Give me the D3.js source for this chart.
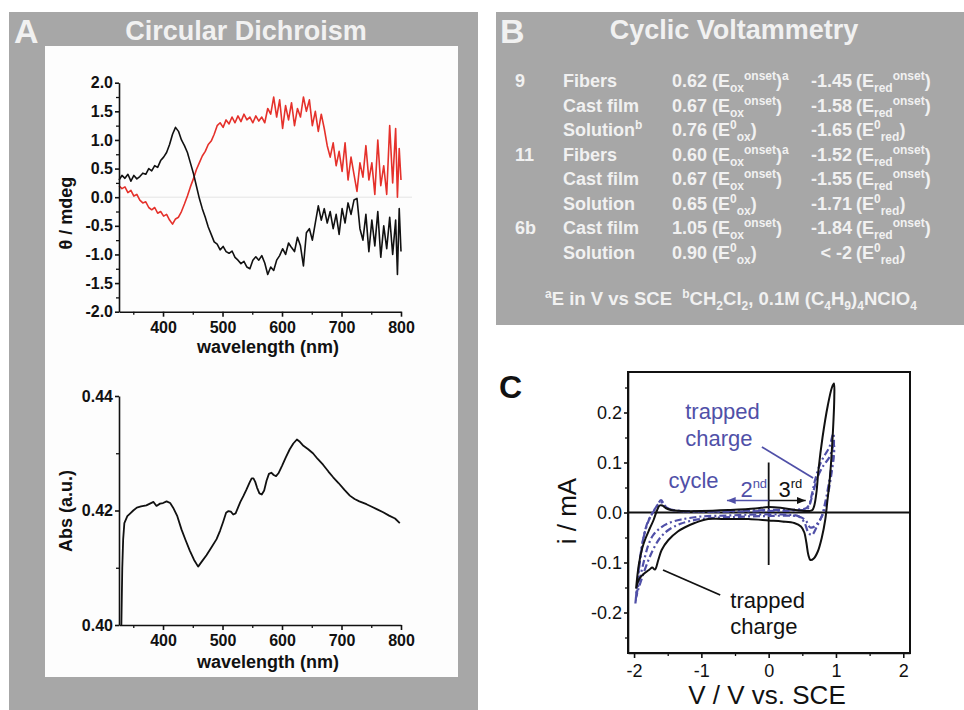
<!DOCTYPE html>
<html><head><meta charset="utf-8">
<script src="https://cdn.jsdelivr.net/npm/d3@7"></script>
<style>
body{margin:0;background:#fff}
svg{display:block;font-family:"Liberation Sans",Arial,sans-serif}
text{white-space:pre}
</style></head><body>
<div id="fig"></div>
<script>
// --- circular dichroism (panel A top)
var cdNm=[326,331,336,341,346,351,356,361,366,371,376,381,386,391,396,401,406,411,416,421,426,431,436,441,446,451,456,461,466,471,476,481,486,491,496,501,506,511,516,521,526,531,536,541,546,551,556,561,566,571,576,581,586,591,596,601,606,611,616,621,626,631,636,641,646,651,656,661,666,671,676,681,686,691,696,701,706,711,716,721,726,731,736,741,746,751,756,761,766,771,776,781,786,791,794,797,800]
var cdBlack=[0.30,0.38,0.33,0.40,0.28,0.38,0.32,0.36,0.42,0.40,0.50,0.46,0.55,0.52,0.64,0.70,0.78,0.92,1.10,1.22,1.15,1.00,0.90,0.78,0.60,0.42,0.20,-0.02,-0.20,-0.35,-0.52,-0.65,-0.78,-0.82,-0.92,-0.86,-0.95,-0.98,-0.94,-1.05,-1.10,-1.16,-1.12,-1.22,-1.25,-1.10,-1.04,-1.10,-1.02,-1.15,-1.35,-1.22,-1.28,-1.10,-1.02,-0.90,-1.00,-0.80,-0.88,-0.95,-0.70,-0.85,-1.20,-0.62,-0.55,-0.75,-0.45,-0.15,-0.40,-0.20,-0.45,-0.25,-0.55,-0.30,-0.65,-0.20,-0.45,-0.10,-0.30,-0.05,-0.02,-0.55,-0.75,-0.30,-0.95,-0.40,-0.85,-0.25,-1.05,-0.50,-0.90,-0.35,-1.00,-0.40,-1.35,-0.20,-0.95]
var cdRed=[0.20,0.15,0.18,0.08,0.12,0.02,0.05,-0.05,-0.10,-0.08,-0.18,-0.22,-0.18,-0.28,-0.25,-0.33,-0.30,-0.40,-0.47,-0.38,-0.35,-0.25,-0.12,0.02,0.18,0.32,0.48,0.60,0.72,0.80,0.92,0.98,1.10,1.25,1.30,1.22,1.35,1.28,1.40,1.30,1.42,1.32,1.45,1.35,1.40,1.30,1.42,1.33,1.40,1.30,1.55,1.45,1.75,1.40,1.70,1.20,1.60,1.35,1.65,1.25,1.55,1.40,1.75,1.50,1.70,1.25,1.50,1.15,1.45,1.20,0.90,0.70,0.95,0.55,0.80,0.45,0.95,0.30,0.70,0.40,0.10,0.60,0.35,0.90,0.30,0.60,0.05,1.00,0.20,0.55,0.05,1.25,0.25,1.20,0.00,0.85,0.30]
var cdYTicks=[-2,-1.5,-1,-0.5,0,0.5,1,1.5,2]
var cdYMinor=[-1.75,-1.25,-0.75,-0.25,0.25,0.75,1.25,1.75]

// --- absorbance (panel A bottom)
var absNm=[330,331.5,333,335,340,345,350,356,363,372,378,384,389,395,400,406,412,417,424,431,438,445,452,459,466,473,481,490,496,501,506,510,514,518,522,526,530,535,540,546,549,552,555,558,562,566,570,574,578,582,586,590,594,600,606,613,619,625,630,636,644,652,660,669,678,686,695,705,714,722,730,742,750,760,770,780,790,798]
var absVal=[0.4000,0.4100,0.4150,0.4178,0.4190,0.4195,0.4200,0.4205,0.4207,0.4209,0.4212,0.4215,0.4208,0.4212,0.4213,0.4216,0.4213,0.4205,0.4190,0.4167,0.4148,0.4130,0.4114,0.4102,0.4112,0.4122,0.4135,0.4150,0.4165,0.4180,0.4196,0.4199,0.4198,0.4193,0.4195,0.4205,0.4215,0.4225,0.4236,0.4250,0.4256,0.4256,0.4250,0.4240,0.4230,0.4228,0.4235,0.4252,0.4264,0.4266,0.4262,0.4260,0.4265,0.4278,0.4292,0.4307,0.4317,0.4324,0.4320,0.4313,0.4307,0.4300,0.4290,0.4280,0.4268,0.4258,0.4248,0.4236,0.4226,0.4220,0.4216,0.4211,0.4207,0.4202,0.4197,0.4191,0.4186,0.4178]
var absYTicks=[0.40,0.42,0.44]
var absYMinor=[0.41,0.43]

var nmTicks=[400,500,600,700,800]
var nmMinor=[350,450,550,650,750]

// --- cyclic voltammetry table (panel B)
var tblCompound=['9','','','11','','','6b','']
var tblMedium=['Fibers','Cast film','Solution','Fibers','Cast film','Solution','Cast film','Solution']
var tblMediumNote=['','','b','','','','','']
var tblOx=['0.62','0.67','0.76','0.60','0.67','0.65','1.05','0.90']
var tblOxNote=['a','','','a','','','','']
var tblRed=['-1.45','-1.58','-1.65','-1.52','-1.55','-1.71','-1.84','< -2']
var tblKind=['onset','onset','0','onset','onset','0','onset','0']

// --- CV curves (panel C), [V, i]
var cvBlack=[[-1.97,-0.152],[-1.93,-0.105],[-1.88,-0.072],[-1.83,-0.052],[-1.77,-0.033],[-1.71,-0.015],[-1.66,0.004],[-1.62,0.014],[-1.58,0.014],[-1.53,0.009],[-1.45,0.005],[-1.3,0.003],[-1.0,0.003],[-0.6,0.005],[-0.2,0.008],[0.0,0.011],[0.2,0.009],[0.45,0.004],[0.6,0.003],[0.65,0.005],[0.68,0.015],[0.71,0.04],[0.74,0.085],[0.8,0.15],[0.88,0.215],[0.94,0.25],[0.97,0.258],[0.975,0.23],[0.95,0.15],[0.91,0.07],[0.87,0.02],[0.84,-0.015],[0.79,-0.05],[0.73,-0.078],[0.67,-0.092],[0.62,-0.095],[0.59,-0.085],[0.56,-0.06],[0.53,-0.04],[0.48,-0.028],[0.38,-0.021],[0.2,-0.018],[0.0,-0.016],[-0.3,-0.013],[-0.7,-0.013],[-0.9,-0.013],[-1.1,-0.021],[-1.25,-0.03],[-1.35,-0.038],[-1.49,-0.055],[-1.59,-0.075],[-1.64,-0.095],[-1.69,-0.114],[-1.73,-0.110],[-1.77,-0.114],[-1.84,-0.121],[-1.92,-0.132],[-1.97,-0.152]]
var cvBlue2=[[-1.98,-0.182],[-1.95,-0.14],[-1.91,-0.09],[-1.86,-0.05],[-1.80,-0.02],[-1.72,0.0],[-1.65,0.015],[-1.60,0.025],[-1.56,0.018],[-1.5,0.008],[-1.3,0.003],[-1.0,0.002],[-0.5,0.003],[0.0,0.005],[0.4,0.006],[0.55,0.008],[0.6,0.015],[0.64,0.035],[0.69,0.065],[0.75,0.092],[0.82,0.112],[0.9,0.13],[0.96,0.158],[0.97,0.14],[0.94,0.10],[0.89,0.055],[0.84,0.02],[0.79,-0.007],[0.72,-0.027],[0.64,-0.045],[0.59,-0.04],[0.53,-0.02],[0.45,-0.008],[0.2,-0.004],[-0.2,-0.004],[-0.6,-0.006],[-1.0,-0.008],[-1.3,-0.014],[-1.5,-0.022],[-1.62,-0.032],[-1.72,-0.046],[-1.79,-0.066],[-1.84,-0.09],[-1.89,-0.118],[-1.95,-0.155],[-1.98,-0.182]]
var cvBlue3=[[-1.97,-0.17],[-1.94,-0.13],[-1.90,-0.085],[-1.85,-0.045],[-1.78,-0.015],[-1.70,0.005],[-1.63,0.018],[-1.58,0.02],[-1.52,0.01],[-1.4,0.004],[-1.0,0.002],[-0.5,0.002],[0.0,0.003],[0.4,0.004],[0.58,0.008],[0.63,0.025],[0.68,0.05],[0.74,0.075],[0.82,0.095],[0.9,0.11],[0.97,0.135],[0.97,0.115],[0.93,0.075],[0.88,0.035],[0.83,0.005],[0.76,-0.015],[0.68,-0.028],[0.62,-0.03],[0.55,-0.016],[0.45,-0.008],[0.0,-0.007],[-0.5,-0.009],[-1.0,-0.013],[-1.3,-0.022],[-1.5,-0.036],[-1.62,-0.052],[-1.72,-0.075],[-1.8,-0.1],[-1.88,-0.13],[-1.94,-0.155],[-1.97,-0.17]]
var cvYTicks=[-0.2,-0.1,0,0.1,0.2]
var cvYMinor=[-0.25,-0.15,-0.05,0.05,0.15,0.25]
var cvXTicks=[-2,-1,0,1,2]
var cvXMinor=[-1.5,-0.5,0.5,1.5]

var gray='#a7a7a7', light='#f1f1f1', blue='#5050a8'
var svg=d3.select('#fig').append('svg').attr('width',964).attr('height',710)

svg.append('rect').attr('x',9).attr('y',12).attr('width',469).attr('height',698).attr('fill',gray)
svg.append('rect').attr('x',45).attr('y',46).attr('width',413).attr('height',631).attr('fill','#fdfdfd')
svg.append('rect').attr('x',496).attr('y',12).attr('width',468).attr('height',313).attr('fill',gray)

function Label(x,y,txt,size,opt){
    opt=opt||{}
    var t=svg.append('text').attr('x',x).attr('y',y).text(txt)
	.attr('font-size',size)
	.attr('font-weight',opt.weight||'normal')
	.attr('fill',opt.fill||'#111')
	.attr('text-anchor',opt.anchor||'start')
    if(opt.rotate) t.attr('transform','rotate(-90,'+x+','+y+')')
    return t
}

// text with sub/superscripts: parts are [text, shift] with 1=sup, -1=sub
function RichText(x,y,parts,size,small,anchor){
    var t=svg.append('text').attr('x',x).attr('y',y)
	.attr('font-size',size).attr('font-weight','bold')
	.attr('fill',light).attr('text-anchor',anchor||'start')
    var cur=0
    parts.forEach(function(p){
	var off=p[1]==1?-7:(p[1]==-1?5:0)
	t.append('tspan').attr('dy',off-cur)
	    .attr('font-size',p[1]?small:null)
	    .text(p[0])
	cur=off
    })
    return t
}

function AddAxis(pos,scale,major,minor,fmt,trans,size,pad,font,weight){
    var mk=pos=='left'?d3.axisLeft:d3.axisBottom
    var gm=svg.append('g').attr('transform',trans)
	.call(mk(scale).tickValues(minor).tickSize(3).tickFormat('').tickSizeOuter(0))
    gm.select('.domain').remove()
    gm.selectAll('line').attr('stroke','#111').attr('stroke-width',1.3)
    var g=svg.append('g').attr('transform',trans)
	.call(mk(scale).tickValues(major).tickSize(size).tickPadding(pad).tickFormat(fmt).tickSizeOuter(0))
    g.selectAll('text')
	.attr('font-size',font).attr('font-weight',weight)
	.attr('font-family','"Liberation Sans",Arial,sans-serif').attr('fill','#111')
    g.selectAll('line,path').attr('stroke','#111').attr('stroke-width',1.6)
    return g
}

// panel titles
Label(14,43,'A',34,{weight:'bold',fill:light})
Label(246,40,'Circular Dichroism',27,{weight:'bold',fill:light,anchor:'middle'})
Label(500,43,'B',34,{weight:'bold',fill:light})
Label(734,39,'Cyclic Voltammetry',27,{weight:'bold',fill:light,anchor:'middle'})
Label(499,398,'C',32,{weight:'bold',fill:'#111'})

// ---- CD plot
var xCd=d3.scaleLinear().domain([326,800]).range([119,401])
var yCd=d3.scaleLinear().domain([-2,2]).range([311.7,82.7])
svg.append('line').attr('x1',119).attr('x2',412).attr('y1',yCd(0)).attr('y2',yCd(0))
    .attr('stroke','#e4e4e4').attr('stroke-width',1)
var cdLine=function(vals){
    return d3.line().x(function(d,i){return xCd(cdNm[i])}).y(function(d){return yCd(d)})(vals)}
svg.append('path').attr('d',cdLine(cdRed)).attr('fill','none')
    .attr('stroke','#e5312b').attr('stroke-width',1.6).attr('stroke-linejoin','round')
svg.append('path').attr('d',cdLine(cdBlack)).attr('fill','none')
    .attr('stroke','#111').attr('stroke-width',1.6).attr('stroke-linejoin','round')
AddAxis('left',yCd,cdYTicks,cdYMinor,function(d){return d.toFixed(1)},'translate(119,0)',4,2,16,'bold')
AddAxis('bottom',xCd,nmTicks,nmMinor,function(d){return d},'translate(0,311.7)',5,5,16,'bold')
Label(268,353,'wavelength (nm)',18,{weight:'bold',anchor:'middle'})
Label(72,213,'\u03b8 / mdeg',18,{weight:'bold',anchor:'middle',rotate:true})

// ---- Abs plot
var yAbs=d3.scaleLinear().domain([0.40,0.44]).range([625,396])
svg.append('path')
    .attr('d',d3.line().x(function(d,i){return xCd(absNm[i])}).y(function(d){return yAbs(d)})(absVal))
    .attr('fill','none').attr('stroke','#111').attr('stroke-width',1.8).attr('stroke-linejoin','round')
AddAxis('left',yAbs,absYTicks,absYMinor,function(d){return d.toFixed(2)},'translate(119,0)',4,2,16,'bold')
AddAxis('bottom',xCd,nmTicks,nmMinor,function(d){return d},'translate(0,625)',5,5,16,'bold')
Label(268,668,'wavelength (nm)',18,{weight:'bold',anchor:'middle'})
Label(72,511,'Abs (a.u.)',18,{weight:'bold',anchor:'middle',rotate:true})

// ---- table
var rowY=[87.3,111.7,136,160.5,185,209.5,234,258.5]
rowY.forEach(function(y,i){
    RichText(515,y,[[tblCompound[i],0]],18,12)
    RichText(563,y,[[tblMedium[i],0],[tblMediumNote[i],1]],18,12)
    RichText(707,y,[[tblOx[i],0]],18,12,'end')
    var ox = tblKind[i]=='onset' ? [['(E',0],['ox',-1],['onset',1],[')',0]] : [['(E',0],['0',1],['ox',-1],[')',0]]
    if(tblOxNote[i]) ox.push([tblOxNote[i],1])
    RichText(712,y,ox,18,12)
    RichText(852,y,[[tblRed[i],0]],18,12,'end')
    var rd = tblKind[i]=='onset' ? [['(E',0],['red',-1],['onset',1],[')',0]] : [['(E',0],['0',1],['red',-1],[')',0]]
    RichText(856,y,rd,18,12)
})
RichText(545,305,[['a',1],['E in V vs SCE  ',0],['b',1],['CH',0],['2',-1],['Cl',0],['2',-1],[', 0.1M (C',0],['4',-1],['H',0],['9',-1],[')',0],['4',-1],['NClO',0],['4',-1]],18.5,12)

// ---- CV plot
var xCv=d3.scaleLinear().domain([-2.09,2.1]).range([628,910])
var yCv=d3.scaleLinear().domain([-0.281,0.281]).range([653,372])
var cvPath=d3.line().x(function(d){return xCv(d[0])}).y(function(d){return yCv(d[1])}).curve(d3.curveCatmullRom.alpha(0.5))

svg.append('line').attr('x1',628).attr('x2',910).attr('y1',yCv(0)).attr('y2',yCv(0)).attr('stroke','#111').attr('stroke-width',1.8)
svg.append('line').attr('x1',xCv(0)).attr('x2',xCv(0)).attr('y1',yCv(0.1)).attr('y2',yCv(-0.105)).attr('stroke','#111').attr('stroke-width',1.8)

;[cvBlue2,cvBlue3].forEach(function(c){
    svg.append('path').attr('d',cvPath(c)).attr('fill','none')
	.attr('stroke',blue).attr('stroke-width',2.2).attr('stroke-dasharray','7,3,2,3')
})
svg.append('path').attr('d',cvPath(cvBlack)).attr('fill','none')
    .attr('stroke','#111').attr('stroke-width',2).attr('stroke-linejoin','round')

var defs=svg.append('defs')
function Arrow(id,col){
    defs.append('marker').attr('id',id).attr('viewBox','0 0 10 8').attr('refX',10).attr('refY',4)
	.attr('markerWidth',9).attr('markerHeight',7).attr('markerUnits','userSpaceOnUse').attr('orient','auto')
	.append('path').attr('d','M0,0L10,4L0,8z').attr('fill',col)
}
Arrow('ab',blue); Arrow('ak','#111')
svg.append('line').attr('x1',xCv(0)).attr('x2',xCv(-0.62)).attr('y1',yCv(0.024)).attr('y2',yCv(0.024))
    .attr('stroke',blue).attr('stroke-width',1.6).attr('marker-end','url(#ab)')
svg.append('line').attr('x1',xCv(0)).attr('x2',xCv(0.55)).attr('y1',yCv(0.024)).attr('y2',yCv(0.024))
    .attr('stroke','#111').attr('stroke-width',1.6).attr('marker-end','url(#ak)')

// annotations
svg.append('line').attr('x1',xCv(-0.1)).attr('y1',yCv(0.131)).attr('x2',xCv(0.66)).attr('y2',yCv(0.069))
    .attr('stroke',blue).attr('stroke-width',1.8)
svg.append('line').attr('x1',xCv(-1.57)).attr('y1',yCv(-0.115)).attr('x2',xCv(-0.72)).attr('y2',yCv(-0.165))
    .attr('stroke','#111').attr('stroke-width',1.8)
Label(xCv(-1.24),yCv(0.187),'trapped',22,{fill:blue})
Label(xCv(-1.24),yCv(0.133),'charge',22,{fill:blue})
Label(xCv(-1.49),yCv(0.049),'cycle',22,{fill:blue})
var t2=Label(xCv(-0.42),yCv(0.032),'2',22,{fill:blue})
t2.append('tspan').attr('dy',-9).attr('font-size',13).text('nd')
var t3=Label(xCv(0.146),yCv(0.032),'3',22,{fill:'#111'})
t3.append('tspan').attr('dy',-9).attr('font-size',13).text('rd')
Label(xCv(-0.57),yCv(-0.19),'trapped',22)
Label(xCv(-0.57),yCv(-0.243),'charge',22)

AddAxis('left',yCv,cvYTicks,cvYMinor,function(d){return d.toFixed(1)},'translate(628,0)',4,2,18,'normal')
AddAxis('bottom',xCv,cvXTicks,cvXMinor,function(d){return String(d)},'translate(0,653)',5,6,18,'normal')
svg.append('rect').attr('x',628).attr('y',372).attr('width',282).attr('height',281)
    .attr('fill','none').attr('stroke','#111').attr('stroke-width',2)
Label(576,511,'i / mA',26,{anchor:'middle',rotate:true})
Label(767,704,'V / V vs. SCE',26,{anchor:'middle'})
</script>
</body></html>
